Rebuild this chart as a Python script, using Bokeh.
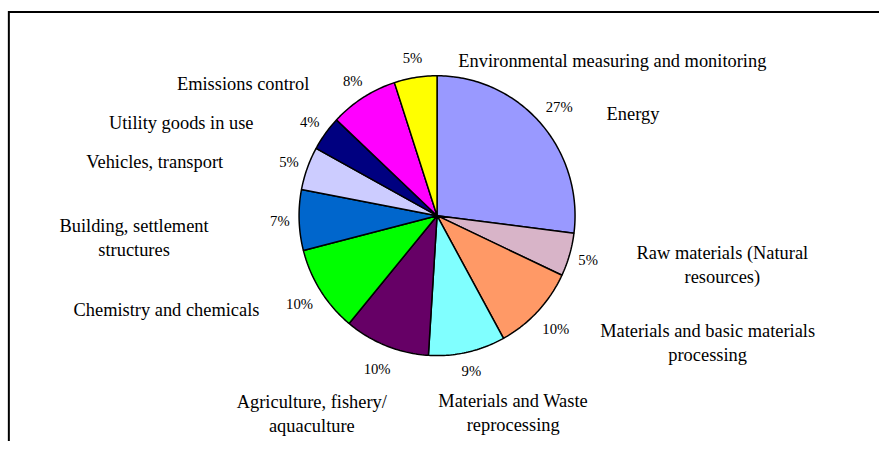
import numpy as np
from bokeh.plotting import figure
from bokeh.models import Range1d
from bokeh.core.properties import value
from bokeh.embed import file_html
from bokeh.resources import INLINE

# ---- data ----
categories = [
    "Energy",
    "Raw materials (Natural\nresources)",
    "Materials and basic materials\nprocessing",
    "Materials and Waste\nreprocessing",
    "Agriculture, fishery/\naquaculture",
    "Chemistry and chemicals",
    "Building, settlement\nstructures",
    "Vehicles, transport",
    "Utility goods in use",
    "Emissions control",
    "Environmental measuring and monitoring",
]
shares = [27, 5, 10, 9, 10, 10, 7, 5, 4, 8, 5]
colors = ["#9999FF", "#D8B4C8", "#FF9966", "#80FFFF", "#660066", "#00FF00",
          "#0066CC", "#CCCCFF", "#000080", "#FF00FF", "#FFFF00"]

# ---- layout (coordinates in a 895 x 457 canvas, drawn into the figure) ----
W, H = 879, 441
CW, CH = 895, 457
CX, CY, RX, RY = 444.5, 223.0, 140.5, 145.0
label_pos = [(644, 118), (735, 262), (720, 343), (522, 415), (317, 416),
             (169, 321), (136, 234), (157, 167), (184, 127), (247, 87),
             (623, 63)]
LINE_STEP = 24.5
FONT = "Liberation Serif"

p = figure(width=W, height=H, x_range=Range1d(0, CW), y_range=Range1d(CH, 0),
           output_backend="svg", toolbar_location=None, min_border=0,
           x_axis_type=None, y_axis_type=None)
p.grid.visible = False
p.outline_line_color = None
p.background_fill_color = "white"
p.border_fill_color = "white"

# frame (left and top edges visible in crop)
p.line([8.5, 8.5, CW + 10], [CH + 10, 12, 12], line_color="black", line_width=2,
       line_join="miter")

# pie slices
total = float(sum(shares))
xs, ys = [], []
cum = 0.0
for s in shares:
    a0 = cum / total * 2 * np.pi
    cum += s
    a1 = cum / total * 2 * np.pi
    n = max(4, int(s * 4))
    t = np.linspace(a0, a1, n)
    px = np.concatenate([[CX], CX + RX * np.sin(t)])
    py = np.concatenate([[CY], CY - RY * np.cos(t)])
    xs.append(list(px))
    ys.append(list(py))
p.patches(xs, ys, fill_color=colors, line_color="black", line_width=1.5)

# percentage labels
pct_x, pct_y, pct_t = [], [], []
cum = 0.0
for s in shares:
    mid = (cum + s / 2.0) / total * 2 * np.pi
    cum += s
    txt = f"{s}%"
    k = 1.14 if len(txt) == 2 else 1.18
    pct_x.append(CX + k * RX * np.sin(mid))
    pct_y.append(CY - k * RY * np.cos(mid))
    pct_t.append(txt)
p.text(pct_x, pct_y, text=pct_t, text_font=value(FONT), text_font_size="14.7px",
       text_align="center", text_baseline="middle", text_color="black")

# category labels
cx_, cy_, ct_ = [], [], []
for name, (lx, ly) in zip(categories, label_pos):
    for i, line in enumerate(name.split("\n")):
        cx_.append(lx)
        cy_.append(ly + i * LINE_STEP)
        ct_.append(line)
p.text(cx_, cy_, text=ct_, text_font=value(FONT), text_font_size="18.4px",
       text_align="center", text_baseline="middle", text_color="black")

open("out.html", "w").write(file_html(p, INLINE))
